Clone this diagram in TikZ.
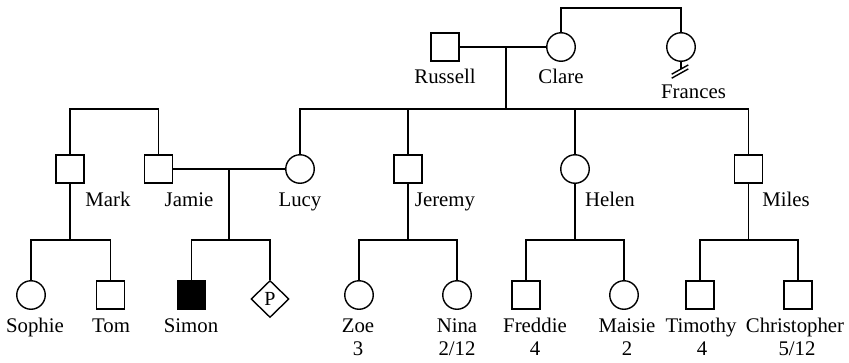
\documentclass[tikz,border=0pt]{standalone}
\usepackage{fontspec}
\setmainfont{Liberation Serif}
\usetikzlibrary{shapes.geometric}
\begin{document}
\begin{tikzpicture}[x=1pt,y=-1pt, line width=1.4pt,
  male/.style={draw, rectangle, minimum size=28pt, inner sep=0pt},
  female/.style={draw, circle, minimum size=28.5pt, inner sep=0pt},
  affected/.style={male, fill=black},
  pregnancy/.style={draw, diamond, minimum width=38pt, minimum height=37pt, inner sep=0pt,
                    font=\fontsize{20}{22}\selectfont},
  lbl/.style={anchor=base, inner sep=0pt, font=\fontsize{20.8}{23}\selectfont}]
\useasboundingbox (0,0) rectangle (849,362);

% --- generation I
\node[male]   (russell) at (445,47) {};
\node[female] (clare)   at (561,47) {};
\node[female] (frances) at (681,47) {};

% --- generation II
\node[male]   (mark)   at (70,169) {};
\node[male]   (jamie)  at (158.5,169) {};
\node[female] (lucy)   at (300,169) {};
\node[male]   (jeremy) at (408,169) {};
\node[female] (helen)  at (575,169) {};
\node[male]   (miles)  at (748.5,169) {};

% --- generation III
\node[female]   (sophie)      at (31,295) {};
\node[male]     (tom)         at (110.5,295) {};
\node[affected] (simon)       at (191.5,295) {};
\node[pregnancy](preg)        at (270,299) {P};
\node[female]   (zoe)         at (359,295) {};
\node[female]   (nina)        at (457,295) {};
\node[male]     (freddie)     at (526,295) {};
\node[female]   (maisie)      at (624,295) {};
\node[male]     (timothy)     at (700,295) {};
\node[male]     (christopher) at (798,295) {};

% --- junction coordinates
\coordinate (cfbar) at (621,8);
\coordinate (rc)    at (506,47);
\coordinate (rcsib) at (506,109);
\coordinate (mjbar) at (114,109);
\coordinate (jl)    at (229,169);
\coordinate (jlc)   at (229,240);
\coordinate (markc) at (70,240);
\coordinate (jerc)  at (408,240);
\coordinate (helc)  at (575,240);
\coordinate (milc)  at (748.5,240);
\coordinate (fstub) at (681,69);

% --- connectors
\draw (clare.north) |- (cfbar) -| (frances.north);
\draw (russell) -- (clare);
\draw (rc) -- (rcsib);
\draw (lucy.north) |- (rcsib) -| (miles.north);
\draw (jeremy.north) -- (jeremy.north |- rcsib);
\draw (helen.north) -- (helen.north |- rcsib);
\draw (mark.north) |- (mjbar) -| (jamie.north);
\draw (jamie) -- (lucy);
\draw (jl) -- (jlc);
\draw (simon.north) |- (jlc) -| (preg.north);
\draw (mark.south) -- (markc);
\draw (sophie.north) |- (markc) -| (tom.north);
\draw (jeremy.south) -- (jerc);
\draw (zoe.north) |- (jerc) -| (nina.north);
\draw (helen.south) -- (helc);
\draw (freddie.north) |- (helc) -| (maisie.north);
\draw (miles.south) -- (milc);
\draw (timothy.north) |- (milc) -| (christopher.north);

% Frances: stub with double slash
\draw (frances.south) -- (fstub);
\draw ([shift={(-9.3,5.2)}]fstub) -- ++(16.6,-9.3);
\draw ([shift={(-9.3,9.2)}]fstub) -- ++(16.6,-9.3);

% --- labels
\node[lbl] (l-russell) at (445,83) {Russell};
\node[lbl] (l-clare)   at (561,83) {Clare};
\node[lbl] (l-frances) at (693.5,98) {Frances};

\node[lbl] (l-mark)   at (108,206.5) {Mark};
\node[lbl] (l-jamie)  at (189,206.5) {Jamie};
\node[lbl] (l-lucy)   at (300,206.5) {Lucy};
\node[lbl] (l-jeremy) at (445,206.5) {Jeremy};
\node[lbl] (l-helen)  at (610,206.5) {Helen};
\node[lbl] (l-miles)  at (786,206.5) {Miles};

\node[lbl] (l-sophie)      at (35,332.5) {Sophie};
\node[lbl] (l-tom)         at (111,332.5) {Tom};
\node[lbl] (l-simon)       at (191,332.5) {Simon};
\node[lbl] (l-zoe)         at (358,332.5) {Zoe};
\node[lbl] (l-nina)        at (457,332.5) {Nina};
\node[lbl] (l-freddie)     at (535,332.5) {Freddie};
\node[lbl] (l-maisie)      at (627,332.5) {Maisie};
\node[lbl] (l-timothy)     at (701,332.5) {Timothy};
\node[lbl] (l-christopher) at (795,332.5) {Christopher};

\node[lbl] (a-zoe)         at (358,355) {3};
\node[lbl] (a-nina)        at (457,355) {2/12};
\node[lbl] (a-freddie)     at (535,355) {4};
\node[lbl] (a-maisie)      at (627,355) {2};
\node[lbl] (a-timothy)     at (702,355) {4};
\node[lbl] (a-christopher) at (797,355) {5/12};
\end{tikzpicture}
\end{document}
